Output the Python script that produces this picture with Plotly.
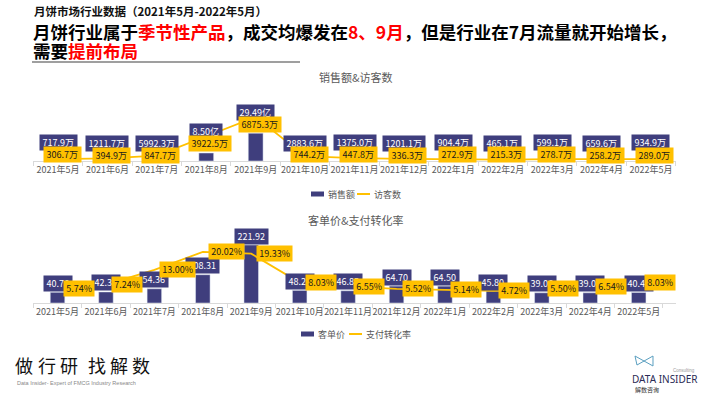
import plotly.graph_objects as go

# ---------------- data ----------------
months = ["2021年5月", "2021年6月", "2021年7月", "2021年8月", "2021年9月", "2021年10月",
          "2021年11月", "2021年12月", "2022年1月", "2022年2月", "2022年3月", "2022年4月", "2022年5月"]
sales_wan = [717.9, 1211.7, 5992.3, 85000, 294900, 2883.6, 1375.0, 1201.1, 904.4, 465.1, 599.1, 659.6, 934.9]
visitors_wan = [306.7, 394.9, 847.7, 3922.5, 6875.3, 744.2, 447.8, 336.3, 272.9, 215.3, 278.7, 258.2, 289.0]
aov = [40.76, 42.35, 54.36, 108.31, 221.92, 48.25, 46.85, 64.70, 64.50, 45.80, 39.06, 39.02, 40.45]
conv_rate = [5.74, 7.24, 13.00, 20.02, 19.33, 8.03, 6.55, 5.52, 5.14, 4.72, 5.50, 6.54, 8.03]

# ---------------- style / layout helpers ----------------
W, H = 710, 399
FONT = "Noto Sans CJK SC, Noto Sans, sans-serif"
BAR = "#3f3e7d"
YEL = "#ffc000"
GREY = "#595959"
LBL_SIZE = 9


def px(x):
    return x / W


def py(y):
    return 1 - y / H


X0, X1 = 33.3, 675.7
TOP_BASE, TOP_TOP = 161, 95
BOT_BASE, BOT_TOP = 303, 228
TOP_H = TOP_BASE - TOP_TOP
BOT_H = BOT_BASE - BOT_TOP
R_SALES, R_VIS, R_AOV, R_CONV = 700000, 10300, 287, 29.4


def fmt_sales(v):
    return f"{v / 10000:.2f}亿" if v >= 10000 else f"{v:.1f}万"


def text_w(t):
    w = 0
    for ch in t:
        if ch.isdigit():
            w += 0.56
        elif ch == ".":
            w += 0.28
        elif ch == "%":
            w += 0.85
        else:
            w += 1.0
    return w * LBL_SIZE + 3


fig = go.Figure()
fig.add_bar(x=months, y=sales_wan, xaxis="x", yaxis="y", marker_color=BAR, name="销售额",
            showlegend=False, width=0.3)
fig.add_scatter(x=months, y=visitors_wan, xaxis="x", yaxis="y2", mode="lines",
                line=dict(color=YEL, width=1.8), name="访客数", showlegend=False)
fig.add_bar(x=months, y=aov, xaxis="x2", yaxis="y3", marker_color=BAR, name="客单价",
            showlegend=False, width=0.3)
fig.add_scatter(x=months, y=conv_rate, xaxis="x2", yaxis="y4", mode="lines",
                line=dict(color=YEL, width=1.8), name="支付转化率", showlegend=False)

ann = []
shapes = []


def label(x, y, yref, xref, t, bg, fc, yshift=0, xshift=0, xanchor="center"):
    ann.append(dict(x=x, y=y, xref=xref, yref=yref, text=t, showarrow=False,
                    bgcolor=bg, font=dict(family=FONT, size=LBL_SIZE, color=fc), borderpad=1,
                    width=text_w(t), align="center",
                    xanchor=xanchor, yanchor="middle", yshift=yshift, xshift=xshift))


def text(x, y, t, size, color, anchor="left", family=FONT):
    ann.append(dict(x=px(x), y=py(y), xref="paper", yref="paper", text=t, showarrow=False,
                    font=dict(family=family, size=size, color=color), xanchor=anchor, yanchor="middle"))


# top chart labels
line_lbls = []
for m, s, v in zip(months, sales_wan, visitors_wan):
    h_bar = s / R_SALES * TOP_H
    h_line = v / R_VIS * TOP_H
    line_c = max(h_line - 8, 6)
    bar_c = max(h_bar + 9, line_c + 12)
    label(m, s, "y", "x", fmt_sales(s), BAR, "white", yshift=bar_c - h_bar)
    line_lbls.append((m, v, line_c - h_line))
for m, v, sh in line_lbls:
    label(m, v, "y2", "x", f"{v:.1f}万", YEL, "#1a1a1a", yshift=sh, xshift=4)

# bottom chart labels
for m, a in zip(months, aov):
    label(m, a, "y3", "x2", f"{a:.2f}", BAR, "white", yshift=9)
for m, c in zip(months, conv_rate):
    label(m, c, "y4", "x2", f"{c:.2f}%", YEL, "#1a1a1a", xshift=5, xanchor="left")

# chart titles
text(355, 77, "销售额&访客数", 11, GREY, "center")
text(355, 220, "客单价&支付转化率", 11, GREY, "center")


# custom legends
def legend(y, bx, bar_name, lx, line_name):
    shapes.append(dict(type="rect", xref="paper", yref="paper", x0=px(bx), x1=px(bx + 13),
                       y0=py(y - 2.5), y1=py(y + 2.5), fillcolor=BAR, line=dict(width=0)))
    text(bx + 15, y, bar_name, 9, GREY)
    shapes.append(dict(type="line", xref="paper", yref="paper", x0=px(lx), x1=px(lx + 13),
                       y0=py(y), y1=py(y), line=dict(color=YEL, width=2)))
    text(lx + 15, y, line_name, 9, GREY)


legend(194, 311, "销售额", 357, "访客数")
legend(334, 301, "客单价", 349, "支付转化率")

# header
RED = "#ff0000"
text(32, 11, "<b>月饼市场行业数据（2021年5月-2022年5月）</b>", 11.5, "#111")
text(31, 31, ("<b>月饼行业属于<span style='color:%s'>季节性产品</span>，成交均爆发在"
              "<span style='color:%s'>8、9月</span>，但是行业在7月流量就开始增长，</b>") % (RED, RED),
     17.5, "#000")
text(31, 50, "<b>需要<span style='color:%s'>提前布局</span></b>" % RED, 17.5, "#000")
shapes.append(dict(type="line", xref="paper", yref="paper", x0=px(32), x1=px(300), y0=py(62), y1=py(62),
                   line=dict(color="#7f7f7f", width=1.5)))

# footer slogan
for ch, cx in zip("做行研找解数", [24, 47, 69, 97, 119, 141]):
    text(cx, 365, ch, 18, "#111", "center")
text(15, 383, "Data Insider- Expert of FMCG Industry Research", 5.5, "#888", family="Liberation Sans")

# logo
text(665, 379, "DATA INSIDER", 10, "#2b2b55", "center", family="Noto Sans")
text(633, 389, "解数咨询", 6, "#333")
text(697, 370, "Consulting", 4.5, "#999", "right", family="Liberation Sans")
shapes.append(dict(type="path", xref="paper", yref="paper",
                   path="M %f %f L %f %f L %f %f L %f %f Z" % (px(635), py(356), px(653), py(366),
                                                               px(653), py(356), px(637), py(365)),
                   line=dict(color="#5a9fc0", width=1)))

xaxis_common = dict(type="category", showline=True, linecolor="#d9d9d9", linewidth=1,
                    ticks="outside", tickson="boundaries", ticklen=4, tickcolor="#d9d9d9",
                    tickangle=0,
                    tickfont=dict(family=FONT, size=9, color=GREY), showgrid=False,
                    domain=[px(X0), px(X1)], fixedrange=True)

fig.update_layout(
    width=W, height=H, margin=dict(l=0, r=0, t=0, b=0),
    paper_bgcolor="white", plot_bgcolor="white",
    font=dict(family=FONT),
    bargap=0.7,
    showlegend=False,
    xaxis=dict(anchor="y", **xaxis_common),
    xaxis2=dict(anchor="y3", **xaxis_common),
    yaxis=dict(domain=[py(TOP_BASE), py(TOP_TOP)], range=[0, R_SALES], visible=False, anchor="x", fixedrange=True),
    yaxis2=dict(overlaying="y", range=[0, R_VIS], visible=False, anchor="x", fixedrange=True),
    yaxis3=dict(domain=[py(BOT_BASE), py(BOT_TOP)], range=[0, R_AOV], visible=False, anchor="x2", fixedrange=True),
    yaxis4=dict(overlaying="y3", range=[0, R_CONV], visible=False, anchor="x2", fixedrange=True),
    annotations=ann,
    shapes=shapes,
)

fig.write_html("out.html", config={"displayModeBar": False},
               post_script="document.body.style.margin='0';document.body.style.overflow='hidden';")
